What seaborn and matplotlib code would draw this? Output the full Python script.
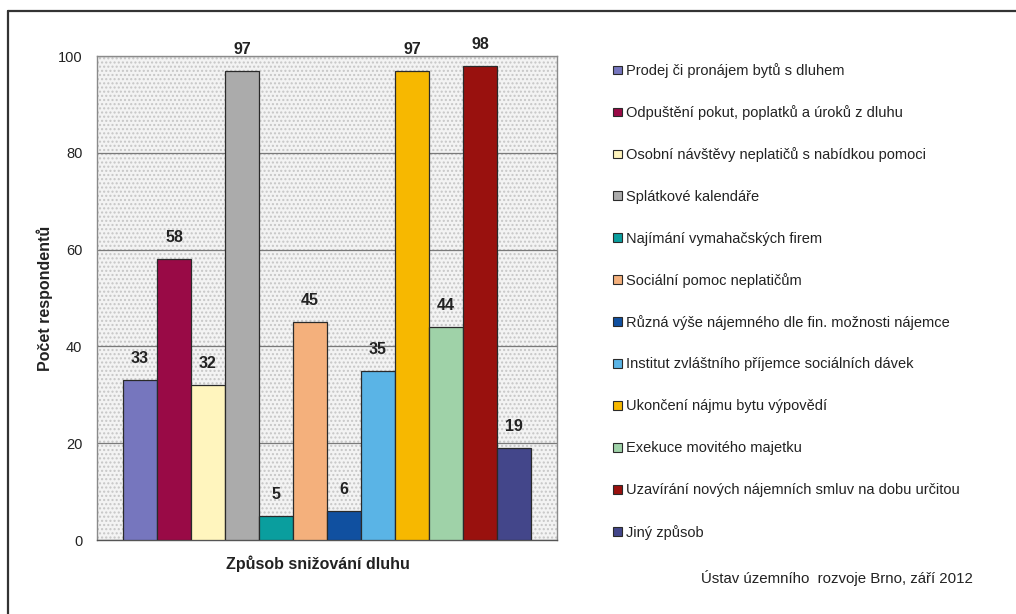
import matplotlib
matplotlib.use("Agg")
import matplotlib.pyplot as plt
from matplotlib.lines import Line2D
from matplotlib.patches import Rectangle
import seaborn as sns
import pandas as pd

# Způsoby snižování dluhu a počty respondentů
zpusoby = [
    "Prodej či pronájem bytů s dluhem",
    "Odpuštění pokut, poplatků a úroků z dluhu",
    "Osobní návštěvy neplatičů s nabídkou pomoci",
    "Splátkové kalendáře",
    "Najímání vymahačských firem",
    "Sociální pomoc neplatičům",
    "Různá výše nájemného dle fin. možnosti nájemce",
    "Institut zvláštního příjemce sociálních dávek",
    "Ukončení nájmu bytu výpovědí",
    "Exekuce movitého majetku",
    "Uzavírání nových nájemních smluv na dobu určitou",
    "Jiný způsob",
]
pocty = [33, 58, 32, 97, 5, 45, 6, 35, 97, 44, 98, 19]
barvy = [
    "#7676be", "#990a46", "#fff5be", "#ababab", "#0a9e9e", "#f4b07c",
    "#1050a0", "#5ab4e6", "#f7b800", "#9fd2a8", "#99110e", "#43468a",
]
y_ticks = [0, 20, 40, 60, 80, 100]

sns.set_style("white")
plt.rcParams["font.family"] = ["Liberation Sans", "DejaVu Sans"]
plt.rcParams["text.color"] = "#222222"
plt.rcParams["axes.labelcolor"] = "#222222"
plt.rcParams["xtick.color"] = "#555555"
plt.rcParams["ytick.color"] = "#555555"

df = pd.DataFrame({"skupina": [""] * len(zpusoby), "způsob": zpusoby, "počet": pocty})

W, H = 1016, 614
fig = plt.figure(figsize=(W / 100, H / 100), dpi=100)
ax = fig.add_axes([97 / W, 1 - 540 / H, 460 / W, 484 / H])

# zrnitý šedý podklad plochy grafu
ax.patch.set_facecolor("#f3f3f3")
ax.add_patch(Rectangle((0, 0), 1, 1, transform=ax.transAxes, facecolor="none",
                       edgecolor="#c6c6c6", hatch="....", linewidth=0, zorder=0))

sns.barplot(data=df, x="skupina", y="počet", hue="způsob", hue_order=zpusoby,
            palette=barvy, width=0.887, edgecolor="#2a2a2a", linewidth=0.9,
            saturation=1, ax=ax, zorder=3)

for cont in ax.containers:
    ax.bar_label(cont, padding=10, fontsize=11.5, fontweight="bold", color="#222222")

ax.set_ylim(0, 100)
ax.set_xlim(-0.5, 0.5)
ax.set_yticks(y_ticks)
ax.set_xticks([-0.5, 0.5])
ax.set_xticklabels(["", ""])
ax.tick_params(axis="y", labelsize=10.5, length=5, width=0.9, direction="inout", pad=8,
               labelcolor="#222222")
ax.tick_params(axis="x", length=6, width=0.9, direction="out")
ax.yaxis.grid(True, color="#7a7a7a", linewidth=0.9)
ax.set_axisbelow(True)
for side, sp in ax.spines.items():
    sp.set_visible(True)
    sp.set_color("#8a8a8a")
    sp.set_linewidth(1.0)
ax.spines["bottom"].set_color("#555555")

ax.set_ylabel("Počet respondentů", fontsize=11.5, fontweight="bold")
ax.yaxis.set_label_coords(-44 / 460, 0.5)
ax.set_xlabel("Způsob snižování dluhu", fontsize=11.5, fontweight="bold")
ax.xaxis.set_label_coords(0.48, -15 / 484)

handles, labels = ax.get_legend_handles_labels()
if ax.get_legend() is not None:
    ax.get_legend().remove()

# legenda: každá položka na pevném řádku
radek0, krok = 70.7, 41.96
for i, (h, lab) in enumerate(zip(handles, labels)):
    leg = fig.legend([h], [lab], loc="center left",
                     bbox_to_anchor=(613 / W, 1 - (radek0 + krok * i) / H),
                     frameon=False, fontsize=10.5, handlelength=0.62,
                     handleheight=0.55, handletextpad=0.25, borderpad=0,
                     borderaxespad=0)
    for lh in leg.legend_handles:
        lh.set_edgecolor("#2a2a2a")
        lh.set_linewidth(0.8)

fig.text(973 / W, 1 - 578 / H, "Ústav územního  rozvoje Brno, září 2012",
         ha="right", va="center", fontsize=10.8, color="#222222")

# rámeček kolem obrázku
fig.add_artist(Line2D([8 / W, 1.0], [1 - 11 / H] * 2, transform=fig.transFigure,
                      color="#333333", linewidth=1.6))
fig.add_artist(Line2D([8 / W] * 2, [0.0, 1 - 11 / H], transform=fig.transFigure,
                      color="#333333", linewidth=1.6))

fig.savefig("out.png", dpi=100, facecolor="white")
